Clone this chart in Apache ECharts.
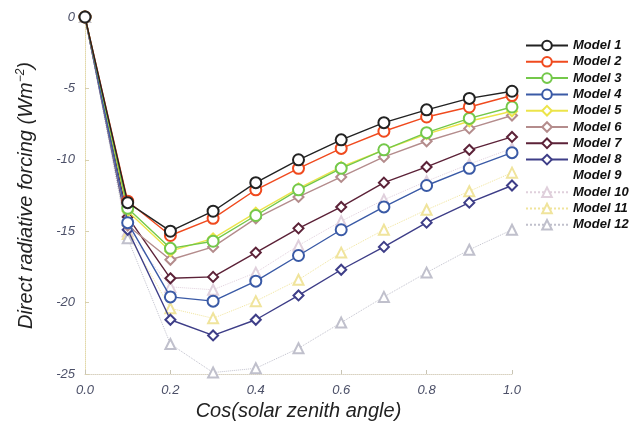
<!DOCTYPE html>
<html><head><meta charset="utf-8">
<script src="https://cdn.jsdelivr.net/npm/echarts@6/dist/echarts.min.js"></script>
<style>html,body{margin:0;padding:0;background:#fff}#c{width:635px;height:427px}</style>
</head><body><div id="c"></div>
<script>
const xValues = [0.0, 0.1, 0.2, 0.3, 0.4, 0.5, 0.6, 0.7, 0.8, 0.9, 1.0];
const model1  = [0, -13.0, -15.0, -13.6, -11.6, -10.0, -8.6, -7.4, -6.5, -5.7, -5.2];
const model2  = [0, -12.9, -15.3, -14.1, -12.1, -10.6, -9.2, -8.0, -7.0, -6.3, -5.5];
const model3  = [0, -13.4, -16.2, -15.7, -13.9, -12.1, -10.6, -9.3, -8.1, -7.1, -6.3];
const model4  = [0, -14.4, -19.6, -19.9, -18.5, -16.7, -14.9, -13.3, -11.8, -10.6, -9.5];
const model5  = [0, -13.6, -16.4, -15.5, -13.7, -12.0, -10.5, -9.3, -8.2, -7.3, -6.6];
const model6  = [0, -14.6, -17.0, -16.1, -14.1, -12.6, -11.2, -9.8, -8.7, -7.8, -6.9];
const model7  = [0, -14.0, -18.3, -18.2, -16.5, -14.8, -13.3, -11.6, -10.5, -9.3, -8.4];
const model8  = [0, -14.9, -21.2, -22.3, -21.2, -19.5, -17.7, -16.1, -14.4, -13.0, -11.8];
const model9  = [];
const model10 = [0, -15.0, -18.9, -19.1, -17.9, -16.0, -14.3, -12.8, -11.5, -10.3, -9.2];
const model11 = [0, -15.2, -20.4, -21.1, -19.9, -18.4, -16.5, -14.9, -13.5, -12.2, -10.9];
const model12 = [0, -15.5, -22.9, -24.9, -24.6, -23.2, -21.4, -19.6, -17.9, -16.3, -14.9];
const modelNames = ['Model 1','Model 2','Model 3','Model 4','Model 5','Model 6','Model 7','Model 8','Model 9','Model 10','Model 11','Model 12'];
const modelData = [model1,model2,model3,model4,model5,model6,model7,model8,model9,model10,model11,model12];
const colors = ['#222222','#f04a1e','#74c84a','#3a5aa6','#ece44a','#b48c8c','#5c2238','#3e3e88','#ffffff','#e0d0dc','#f0e49c','#c0c0cc'];
const symbols = ['emptyCircle','emptyCircle','emptyCircle','emptyCircle','emptyDiamond','emptyDiamond','emptyDiamond','emptyDiamond','none','emptyTriangle','emptyTriangle','emptyTriangle'];

const chart = echarts.init(document.getElementById('c'));
const series = modelNames.map((n, i) => {
  const faint = i >= 8;
  return {
    name: n, type: 'line',
    data: modelData[i].map((v, k) => [xValues[k], v]),
    symbol: symbols[i],
    symbolSize: i < 4 ? 11 : 10,
    showSymbol: symbols[i] !== 'none',
    lineStyle: { color: colors[i], width: faint ? 1 : 1.4, type: faint ? 'dotted' : 'solid' },
    itemStyle: { color: colors[i], borderColor: colors[i], borderWidth: faint ? 1.1 : 1.4 },
    z: faint ? 1 : 10 - i,
    animation: false
  };
});
const labelStyle = { color: '#4c5068', fontStyle: 'italic', fontSize: 13, fontFamily: 'Liberation Sans' };
chart.setOption({
  backgroundColor: '#ffffff',
  animation: false,
  grid: { left: 85, right: 123, top: 17, bottom: 53 },
  legend: {
    orient: 'vertical', left: 520, top: 34,
    itemWidth: 42, itemHeight: 12, itemGap: 3.3,
    data: modelNames,
    textStyle: { color: '#111', fontWeight: 'bold', fontStyle: 'italic', fontSize: 13, fontFamily: 'Liberation Sans' }
  },
  xAxis: {
    type: 'value', min: 0, max: 1.0, interval: 0.2,
    name: 'Cos(solar zenith angle)', nameLocation: 'middle', nameGap: 27,
    nameTextStyle: { color: '#222', fontStyle: 'italic', fontSize: 20, fontFamily: 'Liberation Sans' },
    axisLine: { onZero: false, lineStyle: { color: '#d9d2c0', type: 'dotted' } },
    axisTick: { inside: true, length: 4, lineStyle: { color: '#c8c4b4' } },
    splitLine: { show: false },
    axisLabel: Object.assign({ formatter: v => v.toFixed(1), margin: 10 }, labelStyle)
  },
  yAxis: {
    type: 'value', min: -25, max: 0, interval: 5,
    name: '{a|Direct radiative forcing (Wm}{s|−2}{a|)}', nameLocation: 'middle', nameGap: 48,
    nameTextStyle: { rich: {
      a: { color: '#222', fontStyle: 'italic', fontSize: 20, fontFamily: 'Liberation Sans' },
      s: { color: '#222', fontStyle: 'italic', fontSize: 12, fontFamily: 'Liberation Sans', verticalAlign: 'top', padding: [0,0,10,0] }
    } },
    axisLine: { show: true, onZero: false, lineStyle: { color: '#e2d8a8', type: 'dotted' } },
    axisTick: { inside: true, length: 4, lineStyle: { color: '#d8d0b0' } },
    splitLine: { show: false },
    axisLabel: Object.assign({ margin: 10 }, labelStyle)
  },
  series: series
});
</script>
</body></html>
